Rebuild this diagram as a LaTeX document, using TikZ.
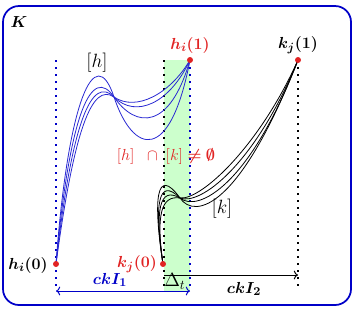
\documentclass[tikz,border=0pt]{standalone}
\usepackage{bm}
\usetikzlibrary{arrows.meta}
\definecolor{myblue}{RGB}{0,0,200}
\definecolor{curveblue}{RGB}{40,40,210}
\definecolor{myred}{RGB}{225,35,35}
\definecolor{mygreen}{RGB}{204,255,204}
\begin{document}
\begin{tikzpicture}[x=0.75pt,y=-0.75pt,
  dotline/.style={line width=1.6pt,dash pattern=on 1.5pt off 3.75pt},
  curveb/.style={curveblue,line width=0.6pt},
  curvek/.style={black,line width=0.6pt},
  dotpt/.style={circle,fill=myred,inner sep=0pt,minimum size=4.5pt},
  lbl/.style={font=\fontsize{13}{15}\selectfont,inner sep=1pt},
  biglbl/.style={font=\fontsize{14}{16}\selectfont,inner sep=1pt}]
\useasboundingbox (0,0) rectangle (356,308);
% frame
\draw[myblue,line width=1.3pt,rounded corners=12pt] (3,6) rectangle (351,305);
\node[lbl] (K) at (19,22) {$\bm{K}$};
% green band
\fill[mygreen] (164,60) rectangle (190,291);
% coordinates
\coordinate (hi0) at (56,264);
\coordinate (hi1) at (190,60);
\coordinate (kj0) at (163,264);
\coordinate (kj1) at (298,60);
\coordinate (C) at (114,97);
\coordinate (D) at (180,198);
% dotted verticals
\draw[dotline,myblue] (56,60) -- (56,291);
\draw[dotline,black] (164,60) -- (164,291);
\draw[dotline,myblue] (190,60) -- (190,291);
\draw[dotline,black] (298,60) -- (298,291);
% blue curves
\draw[curveb] (hi0) .. controls (68,100) and (95,40) .. (C) .. controls (133,154) and (170,165) .. (hi1);
\draw[curveb] (hi0) .. controls (70,110) and (92,65) .. (C) .. controls (136,129) and (170,130) .. (hi1);
\draw[curveb] (hi0) .. controls (72,120) and (92,75) .. (C) .. controls (136,119) and (170,103) .. (hi1);
\draw[curveb] (hi0) .. controls (74,130) and (92,82) .. (C) .. controls (136,112) and (170,94) .. (hi1);
% black curves
\draw[curvek] (kj0) .. controls (153,200) and (156,165) .. (D) .. controls (195,220) and (240,208) .. (kj1);
\draw[curvek] (kj0) .. controls (154,205) and (158,176) .. (D) .. controls (198,213) and (250,185) .. (kj1);
\draw[curvek] (kj0) .. controls (155,210) and (159,186) .. (D) .. controls (200,206) and (255,165) .. (kj1);
\draw[curvek] (kj0) .. controls (156,215) and (161,195) .. (D) .. controls (202,200) and (260,145) .. (kj1);
% points
\node[dotpt] (Phi0) at (hi0) {};
\node[dotpt] (Phi1) at (hi1) {};
\node[dotpt] (Pkj0) at (kj0) {};
\node[dotpt] (Pkj1) at (kj1) {};
% labels
\node[lbl,myred] (Lhi1) at (190,45) {$\bm{h_i(1)}$};
\node[lbl] (Lkj1) at (298,45) {$\bm{k_j(1)}$};
\node[lbl] (Lhi0) at (28,265) {$\bm{h_i(0)}$};
\node[lbl,myred] (Lkj0) at (137,264) {$\bm{k_j(0)}$};
\node[biglbl] (Lh) at (97,63) {$[h]$};
\node[biglbl] (Lk) at (222,209) {$[k]$};
\node[lbl,myred] (Linter) at (166,156) {$[h]\;\;\cap\;[k]\bm{\neq\emptyset}$};
% arrows
\coordinate (a1l) at (56,291);
\coordinate (a1r) at (190,291);
\coordinate (a2l) at (164,275);
\coordinate (a2r) at (298,275);
\draw[myblue,line width=0.7pt,<->] (a1r) -- (a1l);
\draw[black,line width=0.7pt,->] (a2l) -- (a2r);
\node[lbl,myblue] (LI1) at (110,280) {$\bm{ckI_1}$};
\node[lbl] (LI2) at (244,289) {$\bm{ckI_2}$};
\node[biglbl,anchor=west,inner sep=0pt] (Ldt) at (164,281) {$\Delta_t$};
\end{tikzpicture}
\end{document}
